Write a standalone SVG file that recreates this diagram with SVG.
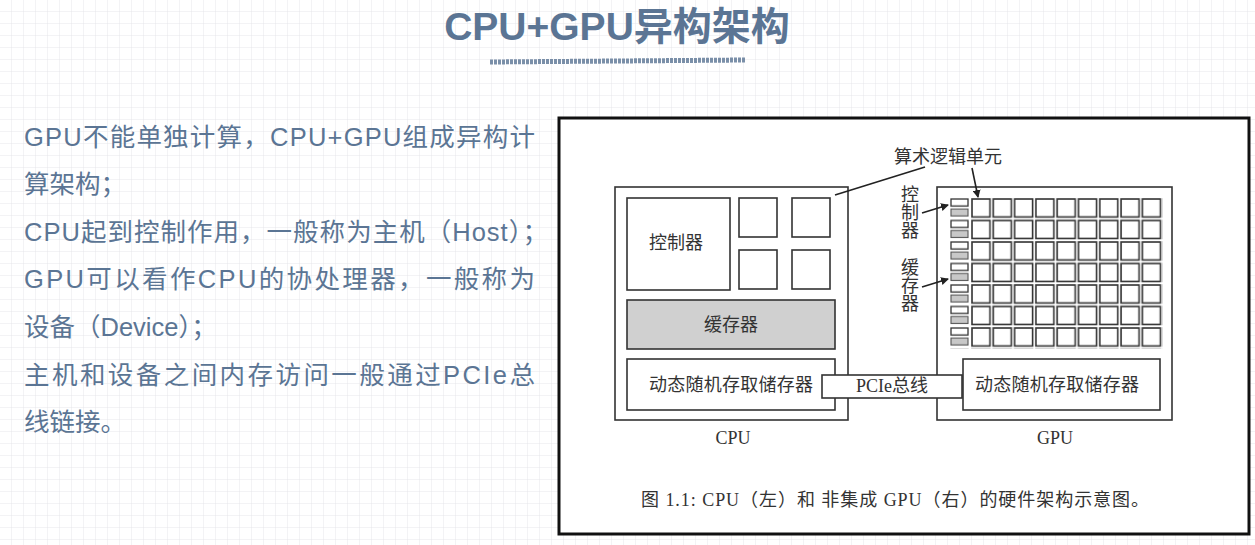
<svg xmlns="http://www.w3.org/2000/svg" width="1255" height="545" viewBox="0 0 1255 545">
<style>
.t{font-family:"Liberation Sans","Noto Sans CJK SC",sans-serif;fill:#5b7594;font-size:25.5px}
.s{font-family:"Liberation Serif","Noto Sans CJK SC",serif;fill:#333;font-size:18px}
.b{fill:#fff;stroke:#333;stroke-width:1.6}
.g{fill:#d0d0d0;stroke:#333;stroke-width:1.6}
.ln{stroke:#222;stroke-width:1.6;fill:none}
</style>
<defs>
<pattern id="grid" width="12" height="12" patternUnits="userSpaceOnUse"><path d="M12 0V12H0" fill="none" stroke="#e6e6ea" stroke-width="1"/></pattern>
<marker id="ar" markerWidth="8" markerHeight="8" refX="7" refY="4" orient="auto" markerUnits="userSpaceOnUse"><path d="M0,0L8,4L0,8z" fill="#222"/></marker>
<pattern id="cells" x="971" y="198" width="21.3" height="21.5" patternUnits="userSpaceOnUse"><rect x="1" y="1" width="18" height="18" fill="#fff" stroke="#333" stroke-width="1.6"/></pattern>
<pattern id="side" x="950" y="198" width="20" height="21.5" patternUnits="userSpaceOnUse"><rect x="1" y="1" width="17" height="7" fill="#fff" stroke="#333" stroke-width="1.3"/><rect x="1" y="11" width="17" height="7" fill="#c8c8c8" stroke="#555" stroke-width="1.1"/></pattern>
</defs>
<rect width="1255" height="545" fill="#fff"/>
<rect width="1255" height="545" fill="url(#grid)"/>
<g id="title">
<text x="617" y="40" text-anchor="middle" font-family="Liberation Sans,Noto Sans CJK SC,sans-serif" font-weight="bold" font-size="39" fill="#5b7594">CPU+GPU异构架构</text>
<path d="M490 62 L745 60" stroke="#5b7594" stroke-width="5" stroke-dasharray="3 1" opacity="0.8"/>
</g>
<g id="bodytext">
<text x="24" y="146" class="t" textLength="511">GPU不能单独计算，CPU+GPU组成异构计</text>
<text x="24" y="193" class="t">算架构；</text>
<text x="24" y="241" class="t" textLength="524">CPU起到控制作用，一般称为主机（Host）；</text>
<text x="24" y="288" class="t" textLength="511">GPU可以看作CPU的协处理器，一般称为</text>
<text x="24" y="336" class="t">设备（Device）；</text>
<text x="24" y="384" class="t" textLength="511">主机和设备之间内存访问一般通过PCIe总</text>
<text x="24" y="431" class="t">线链接。</text>
</g>
<g id="figure">
<rect x="559" y="118" width="690" height="416" fill="#fff" stroke="#111" stroke-width="3"/>
<g id="cpu">
<rect x="615" y="187" width="233" height="233" class="b"/>
<rect x="627" y="198" width="103" height="92" class="b"/>
<text x="676" y="249" class="s" text-anchor="middle">控制器</text>
<rect x="739" y="198" width="38" height="39" class="b"/>
<rect x="792" y="198" width="38" height="39" class="b"/>
<rect x="739" y="250" width="38" height="39" class="b"/>
<rect x="792" y="250" width="38" height="39" class="b"/>
<rect x="627" y="300" width="208" height="49" class="g"/>
<text x="731" y="331" class="s" text-anchor="middle">缓存器</text>
<rect x="627" y="359" width="208" height="51" class="b"/>
<text x="731" y="391" class="s" text-anchor="middle" textLength="164">动态随机存取储存器</text>
<text x="733" y="444" class="s" text-anchor="middle" font-size="15">CPU</text>
</g>
<g id="gpu">
<rect x="937" y="187" width="235" height="233" class="b"/>
<rect x="971" y="198" width="191.7" height="150.5" fill="url(#cells)"/>
<rect x="950" y="198" width="20" height="150.5" fill="url(#side)"/>
<rect x="963" y="359" width="197" height="51" class="b"/>
<text x="1057" y="391" class="s" text-anchor="middle" textLength="164">动态随机存取储存器</text>
<text x="1055" y="444" class="s" text-anchor="middle" font-size="15">GPU</text>
<g class="s" text-anchor="middle"><text x="910" y="201">控</text><text x="910" y="219">制</text><text x="910" y="237">器</text>
<text x="910" y="274">缓</text><text x="910" y="292">存</text><text x="910" y="310">器</text></g>
<text x="948" y="163" class="s" text-anchor="middle">算术逻辑单元</text>
</g>
<g id="pcie">
<rect x="822" y="375" width="140" height="23" class="b"/>
<text x="892" y="392" class="s" text-anchor="middle">PCIe总线</text>
</g>
<g id="connectors">
<path d="M835 195 L925 167" class="ln"/>
<path d="M972 168 L978 197" class="ln" marker-end="url(#ar)"/>
<path d="M922 213 L948 205" class="ln" marker-end="url(#ar)"/>
<path d="M922 287 L948 279" class="ln" marker-end="url(#ar)"/>
</g>
<text x="895" y="506" class="s" text-anchor="middle" textLength="508">图 1.1: CPU（左）和 非集成 GPU（右）的硬件架构示意图。</text>
</g>
</svg>
